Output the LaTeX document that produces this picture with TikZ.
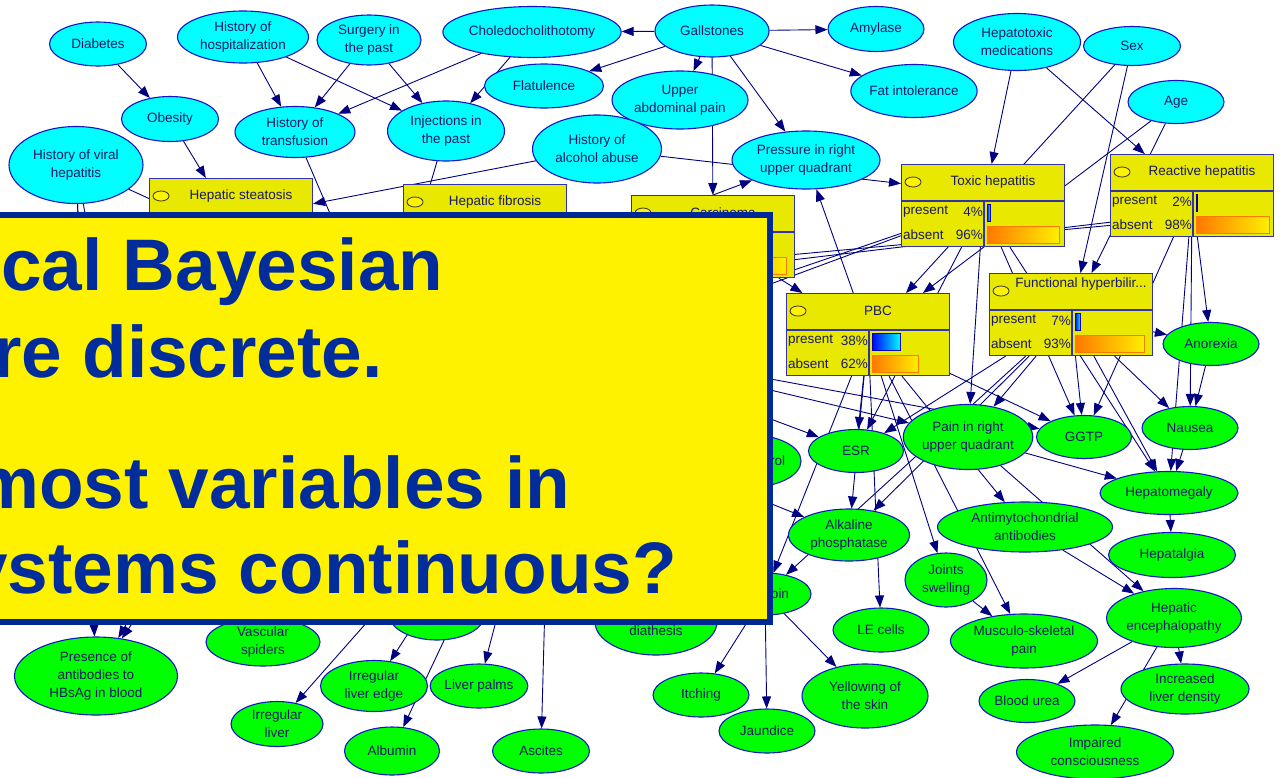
\documentclass[tikz,border=0pt]{standalone}
\usepackage{fontspec}
\setmainfont{Liberation Sans}
\usetikzlibrary{arrows.meta,shapes.geometric,backgrounds}

\definecolor{slideblue}{RGB}{0,40,150}
\definecolor{slidetext}{RGB}{0,45,155}
\definecolor{cyanfill}{RGB}{0,255,255}
\definecolor{greenfill}{RGB}{0,255,0}
\definecolor{nodeline}{RGB}{20,20,200}
\definecolor{edgecol}{RGB}{0,0,128}
\definecolor{nettext}{RGB}{25,25,100}
\definecolor{boxfill}{RGB}{232,232,0}
\definecolor{boxline}{RGB}{50,50,170}
\definecolor{barorange}{RGB}{255,120,0}
\definecolor{baryellow}{RGB}{255,240,0}

\newcommand{\nodefont}{\fontsize{13.5}{18}\selectfont}
\newcommand{\slidefont}{\fontsize{73}{87}\selectfont\bfseries}

\tikzset{
  var/.style={ellipse,draw=nodeline,line width=1.1pt,text=nettext,inner sep=0pt,align=center,font=\nodefont},
  rootvar/.style={var,fill=cyanfill},
  findvar/.style={var,fill=greenfill},
  sz/.style 2 args={minimum width=#1pt,minimum height=#2pt},
  netbody/.style={draw=boxline,fill=boxfill,line width=1.1pt,minimum width=163pt,minimum height=82pt,inner sep=0pt},
  netline/.style={draw=boxline,line width=1.1pt},
  neticon/.style={ellipse,draw=black!80,fill=yellow,minimum width=16pt,minimum height=10pt,inner sep=0pt,line width=0.8pt},
  nettitle/.style={font=\nodefont,text=nettext,inner sep=0pt},
  netrow/.style={font=\nodefont,text=nettext,inner sep=0pt},
  presbar/.style={left color=blue,right color=cyan,draw=blue!70!black,line width=0.8pt},
  absbar/.style={left color=barorange,right color=baryellow,draw=barorange,line width=0.8pt},
  arr/.style={-{Triangle[length=12pt,width=9pt]},draw=edgecol,line width=0.9pt},
  slidebox/.style={fill=yellow,draw=slideblue,line width=6pt},
  slidetxt/.style={font=\slidefont,text=slidetext,inner sep=0pt,anchor=base west}
}

% box header: name, x, y, title, title y
\newcommand{\nethead}[5]{%
  \node[netbody, anchor=north west] (#1) at (#2,#3) {};
  \draw[netline] (#2,{#3+37}) -- ++(163,0);
  \draw[netline] ({#2+83},{#3+37}) -- ++(0,45);
  \node[neticon] (#1-icon) at ({#2+12},{#3+18}) {};
  \node[nettitle] (#1-title) at ({#2+92},{#3+#5}) {#4};
}
% full box: name, x, y, title, present, absent, title y
\newcommand{\netbox}[7]{%
  \nethead{#1}{#2}{#3}{#4}{#7}
  \node[netrow, anchor=west] (#1-pn) at ({#2+2},{#3+48}) {present};
  \node[netrow, anchor=east] (#1-pv) at ({#2+82},{#3+48}) {#5\%};
  \node[netrow, anchor=west] (#1-an) at ({#2+2},{#3+71}) {absent};
  \node[netrow, anchor=east] (#1-av) at ({#2+82},{#3+71}) {#6\%};
  \shadedraw[presbar] ({#2+86},{#3+40}) rectangle ++({0.75*#5},17);
  \shadedraw[absbar] ({#2+86},{#3+62}) rectangle ++({0.75*#6},17);
}

\begin{document}
\begin{tikzpicture}[x=1pt,y=-1pt]
  \useasboundingbox (0,0) rectangle (1285,777);
  \clip (0,0) rectangle (1285,777);

  % history and risk factors
  \node[rootvar, sz={97}{44}] (diab) at (98,44) {Diabetes};
  \node[rootvar, sz={131}{52}] (hosp) at (243,37) {History of\\hospitalization};
  \node[rootvar, sz={104}{50}] (surg) at (369,40) {Surgery in\\the past};
  \node[rootvar, sz={97}{45}] (obes) at (170,119) {Obesity};
  \node[rootvar, sz={120}{51}] (transf) at (295,132) {History of\\transfusion};
  \node[rootvar, sz={134}{77}] (viral) at (76,165) {History of viral\\hepatitis};
  \node[rootvar, sz={117}{60}] (inject) at (446,131) {Injections in\\the past};
  \node[rootvar, sz={170}{51}] (chol) at (532,32) {Choledocholithotomy};
  \node[rootvar, sz={114}{52}] (gall) at (712,31) {Gallstones};
  \node[rootvar, sz={119}{44}] (flat) at (544,86) {Flatulence};
  \node[rootvar, sz={136}{58}] (upab) at (680,100) {Upper\\abdominal pain};
  \node[rootvar, sz={129}{68}] (alco) at (597,149) {History of\\alcohol abuse};
  \node[rootvar, sz={148}{58}] (press) at (806,160) {Pressure in right\\upper quadrant};
  \node[rootvar, sz={96}{45}] (amyl) at (876,29) {Amylase};
  \node[rootvar, sz={125}{53}] (fat) at (914,91) {Fat intolerance};
  \node[rootvar, sz={127}{57}] (hmed) at (1017,42) {Hepatotoxic\\medications};
  \node[rootvar, sz={97}{39}] (sex) at (1132,46) {Sex};
  \node[rootvar, sz={96}{43}] (age) at (1176,102) {Age};

  % disorders
  \nethead{steat}{149}{178}{Hepatic steatosis}{18}
  \nethead{fibro}{403}{184}{Hepatic fibrosis}{18}
  \nethead{carc}{631}{195}{Carcinoma}{18}
  \shadedraw[absbar] (717,257) rectangle ++(69,17);
  \netbox{toxic}{901}{164}{Toxic hepatitis}{4}{96}{18}
  \netbox{react}{1110}{154}{Reactive hepatitis}{2}{98}{18}
  \netbox{pbc}{786}{293}{PBC}{38}{62}{18}
  \netbox{func}{989}{273}{Functional hyperbilir...}{7}{93}{11}

  % symptoms and tests
  \node[findvar, sz={100}{52}] (chlst) at (751,461) {Cholesterol};
  \node[findvar, sz={95}{43}] (esr) at (856,451) {ESR};
  \node[findvar, sz={121}{65}] (painr) at (968,437) {Pain in right\\upper quadrant};
  \node[findvar, sz={95}{43}] (ggtp) at (1084,437) {GGTP};
  \node[findvar, sz={96}{43}] (anor) at (1211,344) {Anorexia};
  \node[findvar, sz={96}{43}] (naus) at (1190,428) {Nausea};
  \node[findvar, sz={138}{43}] (hmeg) at (1169,493) {Hepatomegaly};
  \node[findvar, sz={121}{52}] (alkp) at (849,535) {Alkaline\\phosphatase};
  \node[findvar, sz={175}{50}] (antim) at (1025,527) {Antimytochondrial\\antibodies};
  \node[findvar, sz={127}{45}] (hpalg) at (1172,555) {Hepatalgia};
  \node[findvar, sz={82}{54}] (joint) at (946,580) {Joints\\swelling};
  \node[findvar, sz={92}{42}] (bili) at (765,594) {Bilirubin};
  \node[findvar, sz={96}{44}] (lecel) at (881,630) {LE cells};
  \node[findvar, sz={147}{54}] (musc) at (1024,641) {Musculo-skeletal\\pain};
  \node[findvar, sz={132}{59}] (hence) at (1174,618) {Hepatic\\encephalopathy};
  \node[findvar, sz={126}{64}] (yskin) at (865,696) {Yellowing of\\the skin};
  \node[findvar, sz={96}{43}] (burea) at (1027,701) {Blood urea};
  \node[findvar, sz={128}{50}] (idens) at (1185,689) {Increased\\liver density};
  \node[findvar, sz={157}{54}] (impc) at (1095,752) {Impaired\\consciousness};
  \node[findvar, sz={163}{78}] (hbsag) at (96,676) {Presence of\\antibodies to\\HBsAg in blood};
  \node[findvar, sz={114}{48}] (vasc) at (263,642) {Vascular\\spiders};
  \node[findvar, sz={92}{45}] (irrl) at (277,724) {Irregular\\liver};
  \node[findvar, sz={107}{51}] (irre) at (374,686) {Irregular\\liver edge};
  \node[findvar, sz={96}{44}] (palms) at (479,686) {Liver palms};
  \node[findvar, sz={95}{48}] (albu) at (392,751) {Albumin};
  \node[findvar, sz={97}{44}] (asci) at (541,751) {Ascites};
  \node[findvar, sz={95}{50}] (hidn) at (437,615) {};
  \node[findvar, sz={122}{66}] (hdia) at (656,622) {Hemorrhagic\\diathesis};
  \node[findvar, sz={96}{44}] (itch) at (701,695) {Itching};
  \node[findvar, sz={96}{44}] (jaun) at (767,731) {Jaundice};

  % ends of links under the slide
  \coordinate (hv1) at (300,268);
  \coordinate (hv2) at (240,430);
  \coordinate (hv3) at (255,445);
  \coordinate (hv4) at (86,420);
  \coordinate (hv5) at (120,400);
  \coordinate (ht1) at (380,330);
  \coordinate (hi1) at (405,270);
  \coordinate (hA1) at (300,300);
  \coordinate (hA2) at (320,316);
  \coordinate (hB1) at (560,350);
  \coordinate (hB2) at (560,362);
  \coordinate (hch) at (560,340);
  \coordinate (hci) at (550,415);

  \begin{pgfonlayer}{background}
    \fill[white] (0,0) rectangle (1285,777);
    \draw[arr] (diab) -- (obes);
    \draw[arr] (obes) -- (steat);
    \draw[arr] (hosp) -- (transf);
    \draw[arr] (hosp) -- (inject);
    \draw[arr] (surg) -- (transf);
    \draw[arr] (surg) -- (inject);
    \draw[arr] (chol) -- (transf);
    \draw[arr] (chol) -- (inject);
    \draw[arr] (gall) -- (chol);
    \draw[arr] (gall) -- (flat);
    \draw[arr] (gall) -- (upab);
    \draw[arr] (gall) -- (amyl);
    \draw[arr] (gall) -- (fat);
    \draw[arr] (gall) -- (press);
    \draw[arr] (gall) -- (carc);
    \draw[arr] (carc.north) -- (press);
    \draw[arr] (alco) -- (steat);
    \draw[arr] (alco) -- (toxic.165);
    \draw[arr] (hmed) -- (toxic);
    \draw[arr] (hmed) -- (react);
    \draw[arr] (sex) -- (pbc);
    \draw[arr] (age) -- (pbc);
    \draw[arr] (sex) -- (func);
    \draw[arr] (age) -- (func);
    \draw[arr] (pbc) -- (press);
    \draw[arr] (carc) -- (pbc);
    \draw[arr] (viral) -- (hv1);
    \draw[arr] (viral) -- (hbsag);
    \draw[arr] (viral) -- (hv4);
    \draw[arr] (viral) -- (hv5);
    \draw[arr] (hv2) -- (hbsag);
    \draw[arr] (hv3) -- (hbsag);
    \draw[arr] (transf) -- (ht1);
    \draw[arr] (inject) -- (hi1);
    \draw[arr] (toxic) -- (hB1);
    \draw[arr] (toxic) -- (hB2);
    \draw[arr] (react.200) -- (hA1);
    \draw[arr] (react.198) -- (hA2);
    \draw[arr] (toxic) -- (esr);
    \draw[arr] (toxic) -- (painr);
    \draw[arr] (toxic) -- (ggtp);
    \draw[arr] (toxic) -- (hmeg);
    \draw[arr] (react) -- (anor);
    \draw[arr] (react) -- (naus);
    \draw[arr] (react) -- (hmeg);
    \draw[arr] (react) -- (ggtp);
    \draw[arr] (func) -- (anor);
    \draw[arr] (func) -- (naus);
    \draw[arr] (func) -- (ggtp);
    \draw[arr] (func) -- (painr);
    \draw[arr] (func) -- (alkp);
    \draw[arr] (func) -- (bili);
    \draw[arr] (func) -- (hmeg);
    \draw[arr] (func) -- (esr);
    \draw[arr] (pbc) -- (esr);
    \draw[arr] (pbc) -- (alkp);
    \draw[arr] (pbc) -- (joint);
    \draw[arr] (pbc) -- (antim);
    \draw[arr] (pbc) -- (bili);
    \draw[arr] (pbc) -- (lecel);
    \draw[arr] (pbc) -- (musc);
    \draw[arr] (pbc) -- (ggtp);
    \draw[arr] (hch) -- (painr);
    \draw[arr] (hch) -- (esr);
    \draw[arr] (hch) -- (chlst);
    \draw[arr] (hch) -- (ggtp);
    \draw[arr] (hci) -- (alkp);
    \draw[arr] (hci) -- (bili);
    \draw[arr] (hci) -- (irrl);
    \draw[arr] (hci) -- (irre);
    \draw[arr] (hci) -- (albu);
    \draw[arr] (hci) -- (palms);
    \draw[arr] (hci) -- (asci);
    \draw[arr] (painr) -- (hmeg);
    \draw[arr] (painr) -- (hence);
    \draw[arr] (antim) -- (hence);
    \draw[arr] (anor) -- (naus);
    \draw[arr] (naus) -- (hmeg);
    \draw[arr] (hmeg) -- (hpalg);
    \draw[arr] (hence) -- (burea);
    \draw[arr] (hence) -- (idens);
    \draw[arr] (hence) -- (impc);
    \draw[arr] (joint) -- (musc);
    \draw[arr] (bili) -- (itch);
    \draw[arr] (bili) -- (jaun);
    \draw[arr] (bili) -- (yskin);
  \end{pgfonlayer}

  % slide overlay
  \filldraw[slidebox] (-20,215) rectangle (770,622);
  \node[slidetxt] (line1) at (1,290) {cal Bayesian};
  \node[slidetxt] (line2) at (-7,377) {re discrete.};
  \node[slidetxt] (line3) at (-26,508) {most variables in};
  \node[slidetxt] (line4) at (-33,593) {ystems continuous?};
\end{tikzpicture}
\end{document}
